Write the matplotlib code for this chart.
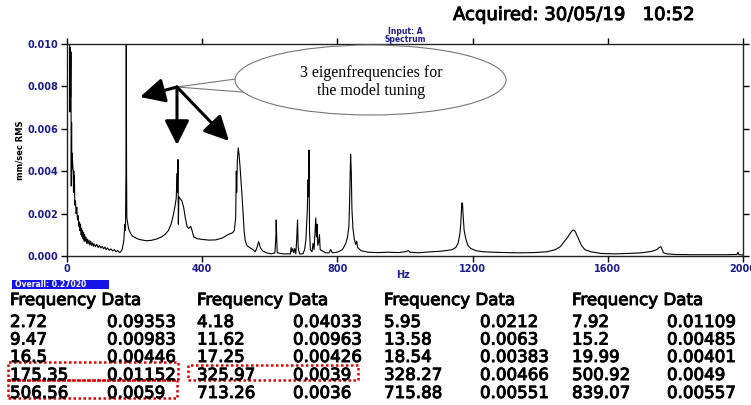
import matplotlib
matplotlib.use("Agg")
import matplotlib.pyplot as plt
import matplotlib.patheffects as pe
from matplotlib.patches import Ellipse, Rectangle, Polygon, FancyArrowPatch

# ---------------- data ----------------
freq_hz = [0.0, 1.5, 2.72, 3.4, 4.18, 5.0, 5.95, 7.0, 7.92, 8.7, 9.47, 10.5, 11.62, 12.6,
           13.58, 14.4, 15.2, 16.5, 17.25, 18.54, 19.3, 19.99, 21, 22, 23, 25, 27, 29, 31,
           33, 35, 37, 38, 40, 42, 43, 45, 46, 48, 49, 51, 52, 54, 56, 58, 60, 62, 65, 67,
           70, 72, 75, 78, 80, 84, 88, 92, 96, 100, 104, 108, 112, 116, 120, 125, 130, 135,
           140, 145, 150, 155, 158, 163, 168, 171, 173, 174.5, 175.35, 176.2, 177, 179, 182,
           187, 193, 200, 210, 220, 235, 250, 265, 280, 290, 300, 308, 314, 319, 323, 325.97,
           327, 328.27, 329.5, 331, 335, 340, 345, 350, 355, 360, 366, 370, 375, 385, 400,
           420, 440, 460, 475, 490, 495, 499, 500.92, 502, 504, 506.56, 509, 512, 515, 518,
           521, 524, 527, 532, 540, 550, 557, 562, 567, 572, 578, 590, 605, 615, 618, 619,
           620.5, 622, 640, 655, 661, 663, 665, 668, 671, 674, 677, 680, 682, 684, 688, 698,
           703, 707, 711, 713.26, 714.5, 715.88, 717.5, 720, 725, 728, 731, 734, 736, 738,
           740, 742, 745, 747, 749, 755, 765, 775, 780, 785, 800, 815, 825, 830, 834, 836,
           838, 839.07, 841, 843, 846, 850, 854, 857, 860, 870, 890, 920, 950, 980, 1000,
           1010, 1015, 1040, 1060, 1080, 1100, 1120, 1140, 1150, 1157, 1162, 1165, 1168,
           1170, 1172, 1175, 1180, 1186, 1195, 1210, 1230, 1260, 1300, 1340, 1380, 1420,
           1445, 1460, 1472, 1482, 1490, 1497, 1503, 1508, 1514, 1522, 1532, 1550, 1580,
           1620, 1660, 1700, 1730, 1745, 1752, 1757, 1761, 1765, 1775, 1800, 1850, 1900,
           1950, 1982, 1985, 1988, 2000]
amp_rms = [0.0120, 0.0300, 0.0935, 0.0500, 0.0403, 0.0250, 0.0212, 0.0120, 0.01109, 0.0068,
           0.00983, 0.0075, 0.00963, 0.0033, 0.0063, 0.0041, 0.00485, 0.00446, 0.00426,
           0.00383, 0.0030, 0.00401, 0.0030, 0.0038, 0.0024, 0.0026, 0.0020, 0.0023, 0.0017,
           0.0019, 0.0014, 0.0016, 0.0012, 0.0015, 0.0010, 0.0013, 0.0009, 0.0012, 0.0008,
           0.0011, 0.0007, 0.0010, 0.0007, 0.0009, 0.0006, 0.0008, 0.00058, 0.00075, 0.00052,
           0.0007, 0.0005, 0.00062, 0.00046, 0.00058, 0.00044, 0.00055, 0.0004, 0.0005,
           0.00038, 0.00046, 0.00034, 0.00042, 0.0003, 0.00038, 0.00027, 0.00033, 0.00024,
           0.0003, 0.0002, 0.00026, 0.00017, 0.00018, 0.0003, 0.0007, 0.0015, 0.0012,
           0.0040, 0.01152, 0.0040, 0.0018, 0.0016, 0.0013, 0.0011, 0.00095, 0.00088,
           0.0008, 0.00076, 0.00072, 0.00074, 0.0008, 0.0009, 0.00102, 0.0012, 0.0015,
           0.0019, 0.0023, 0.0027, 0.0039, 0.0030, 0.00455, 0.0015, 0.0028, 0.0027, 0.0026,
           0.0023, 0.0018, 0.0014, 0.0013, 0.0014, 0.0012, 0.0009, 0.00082, 0.00078,
           0.00075, 0.00076, 0.00085, 0.0010, 0.0011, 0.0012, 0.0018, 0.0040, 0.0030,
           0.0045, 0.0051, 0.0048, 0.0042, 0.0035, 0.0028, 0.0020, 0.0012, 0.00075, 0.0005,
           0.0004, 0.0003, 0.0002, 0.0004, 0.00068, 0.0004, 0.00025, 0.00015, 0.0001,
           0.00015, 0.0009, 0.0017, 0.0008, 0.00015, 0.0001, 0.0001, 0.0001, 0.0004, 0.0002,
           0.00035, 0.00015, 0.00035, 0.0001, 0.0009, 0.0017, 0.0004, 0.0001, 0.0001,
           0.0003, 0.0008, 0.0022, 0.0036, 0.0028, 0.0050, 0.0012, 0.0003, 0.0002, 0.0006,
           0.0003, 0.0012, 0.0018, 0.0009, 0.0015, 0.0005, 0.0007, 0.0010, 0.0003, 0.00025,
           0.00015, 0.00015, 0.0003, 0.00015, 0.00018, 0.0003, 0.0006, 0.0009, 0.0014,
           0.0025, 0.0040, 0.0048, 0.0040, 0.0022, 0.0013, 0.0008, 0.00055, 0.0007, 0.0004,
           0.00025, 0.00018, 0.00016, 0.00018, 0.00016, 0.0002, 0.00025, 0.00018, 0.00015,
           0.00018, 0.0002, 0.00022, 0.00025, 0.0003, 0.0004, 0.0006, 0.0010, 0.0015,
           0.0025, 0.0025, 0.0019, 0.0012, 0.0008, 0.0005, 0.00035, 0.00025, 0.0002,
           0.00018, 0.00016, 0.00015, 0.00016, 0.0002, 0.0003, 0.00045, 0.0007, 0.0009,
           0.0011, 0.00123, 0.00118, 0.0010, 0.00078, 0.0005, 0.0003, 0.0002, 0.00012,
           0.0001, 0.00012, 0.00015, 0.00022, 0.0003, 0.0004, 0.00044, 0.0003, 0.00015,
           0.0001, 0.00007, 0.00006, 0.00006, 0.00006, 0.00007, 0.00018, 0.00006, 0.00005]

x_ticks = [0, 400, 800, 1200, 1600, 2000]
y_ticks = [0.000, 0.002, 0.004, 0.006, 0.008, 0.010]

table_freq = [["2.72", "9.47", "16.5", "175.35", "506.56"],
              ["4.18", "11.62", "17.25", "325.97", "713.26"],
              ["5.95", "13.58", "18.54", "328.27", "715.88"],
              ["7.92", "15.2", "19.99", "500.92", "839.07"]]
table_amp = [["0.09353", "0.00983", "0.00446", "0.01152", "0.0059"],
             ["0.04033", "0.00963", "0.00426", "0.0039", "0.0036"],
             ["0.0212", "0.0063", "0.00383", "0.00466", "0.00551"],
             ["0.01109", "0.00485", "0.00401", "0.0049", "0.00557"]]

# ---------------- figure ----------------
W, H = 751, 405
fig = plt.figure(figsize=(W / 100, H / 100), dpi=100)
fig.patch.set_facecolor("white")


def fx(x):
    return x / W


def fy(y):
    return 1 - y / H


navy = "#1c1c8e"
thick = [pe.withStroke(linewidth=0.7, foreground="black")]

ax = fig.add_axes([fx(67), fy(256), (743 - 67) / W, (256 - 44) / H])
ax.plot(freq_hz, amp_rms, color="black", lw=0.8)
ax.set_xlim(0, 2000)
ax.set_ylim(0, 0.010)
ax.set_xticks(x_ticks)
ax.set_yticks(y_ticks)
ax.set_xticklabels([str(t) for t in x_ticks])
ax.set_yticklabels([f"{t:.3f}" for t in y_ticks])
ax.tick_params(direction="out", length=4, width=1, top=True, right=True,
               labeltop=False, labelright=False, labelsize=7, labelcolor=navy, pad=2)
for lab in ax.get_xticklabels() + ax.get_yticklabels():
    lab.set_fontweight("bold")
for s in ax.spines.values():
    s.set_linewidth(1.0)
    s.set_color("#222222")

fig.text(fx(20), fy(150), "mm/sec RMS", rotation=90, fontsize=6, fontweight="bold",
         ha="center", va="center")
fig.text(fx(403), fy(275), "Hz", fontsize=7, fontweight="bold", color=navy,
         ha="center", va="center")
fig.text(fx(405), fy(31), "Input: A", fontsize=5.5, fontweight="bold", color=navy,
         ha="center", va="center")
fig.text(fx(405), fy(39.5), "Spectrum", fontsize=5.5, fontweight="bold", color=navy,
         ha="center", va="center")
fig.text(fx(453), fy(15), "Acquired: 30/05/19   10:52", fontsize=13,
         ha="left", va="center", path_effects=thick)

# Overall box
fig.add_artist(Rectangle((fx(12), fy(289)), (109 - 12) / W, 9 / H,
                         transform=fig.transFigure, facecolor="#1414e6", edgecolor="none"))
fig.text(fx(15), fy(284.5), "Overall: 0.27020", fontsize=5.5, fontweight="bold",
         color="white", ha="left", va="center")

# table
freq_x = [10, 197, 384, 572]
amp_x = [107, 293, 480, 667]
row_y = [322, 339.5, 357, 375, 393]
for g in range(4):
    fig.text(fx(freq_x[g]), fy(300), "Frequency Data", fontsize=12, ha="left",
             va="center", path_effects=thick)
    for r in range(5):
        fig.text(fx(freq_x[g]), fy(row_y[r]), table_freq[g][r], fontsize=12,
                 ha="left", va="center", path_effects=thick)
        fig.text(fx(amp_x[g]), fy(row_y[r]), table_amp[g][r], fontsize=12,
                 ha="left", va="center", path_effects=thick)

# red dotted boxes
for (x0, y0, x1, y1) in [(8, 362, 178, 380), (8, 380, 177, 398), (188, 365, 358, 380)]:
    fig.add_artist(Rectangle((fx(x0), fy(y1)), (x1 - x0) / W, (y1 - y0) / H,
                             transform=fig.transFigure, fill=False, edgecolor="#e00000",
                             lw=1.8, linestyle=(0, (1, 1))))

# callout
tail = Polygon([(fx(250), fy(77)), (fx(177), fy(87)), (fx(255), fy(93))], closed=True,
               transform=fig.transFigure, facecolor="white", edgecolor="#777777", lw=0.8,
               zorder=3)
fig.add_artist(tail)
ell = Ellipse((fx(370.5), fy(80)), 271 / W, 70 / H, transform=fig.transFigure,
              facecolor="white", edgecolor="#777777", lw=0.8, zorder=4)
fig.add_artist(ell)
fig.text(fx(371), fy(82), "3 eigenfrequencies for\nthe model tuning",
         family="Liberation Serif", fontsize=11.5, ha="center", va="center",
         linespacing=1.2, zorder=5)

for tip in [(140, 97), (177, 145), (229, 141)]:
    fig.add_artist(FancyArrowPatch(
        (fx(177), fy(87)), (fx(tip[0]), fy(tip[1])), transform=fig.transFigure,
        arrowstyle="-|>,head_length=1.0,head_width=0.5", mutation_scale=15,
        lw=2.2, color="black", shrinkA=0, shrinkB=0, zorder=6))

fig.savefig("out.png", dpi=100)
